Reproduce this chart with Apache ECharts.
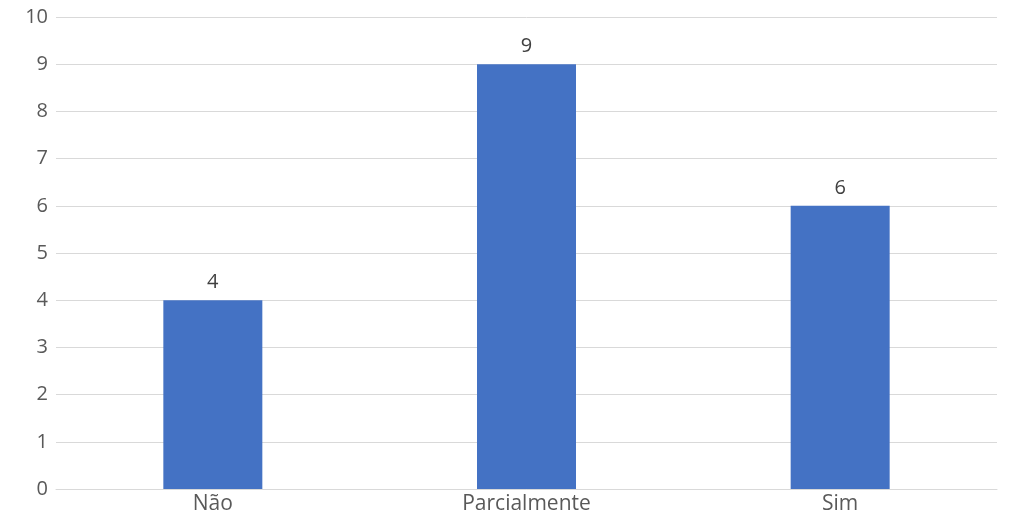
<!DOCTYPE html>
<html><head><meta charset="utf-8">
<script src="https://cdn.jsdelivr.net/npm/echarts@6/dist/echarts.min.js"></script>
<style>html,body{margin:0;padding:0;background:#fff}#c{width:1010px;height:519px}</style>
</head><body><div id="c"></div>
<script>
const categories = ["Não", "Parcialmente", "Sim"];
const values = [4, 9, 6];
const chart = echarts.init(document.getElementById('c'));
const font = '"Open Sans", "Liberation Sans", sans-serif';
chart.setOption({
  animation: false,
  grid: {left: 56, right: 13, top: 17, bottom: 30},
  xAxis: {
    type: 'category', data: categories,
    axisLine: {lineStyle: {color: '#d9d9d9', width: 1}},
    axisTick: {show: false},
    axisLabel: {color: '#595959', fontSize: 21, fontFamily: font, margin: 5}
  },
  yAxis: {
    type: 'value', min: 0, max: 10, interval: 1,
    axisLine: {show: false}, axisTick: {show: false},
    splitLine: {lineStyle: {color: '#d9d9d9', width: 1}},
    axisLabel: {color: '#595959', fontSize: 20, fontFamily: font, margin: 8}
  },
  series: [{
    type: 'bar', data: values, barWidth: 99,
    itemStyle: {color: '#4472C4'},
    label: {show: true, position: 'top', color: '#404040', fontSize: 20, fontFamily: font, distance: 8}
  }]
});
</script></body></html>
